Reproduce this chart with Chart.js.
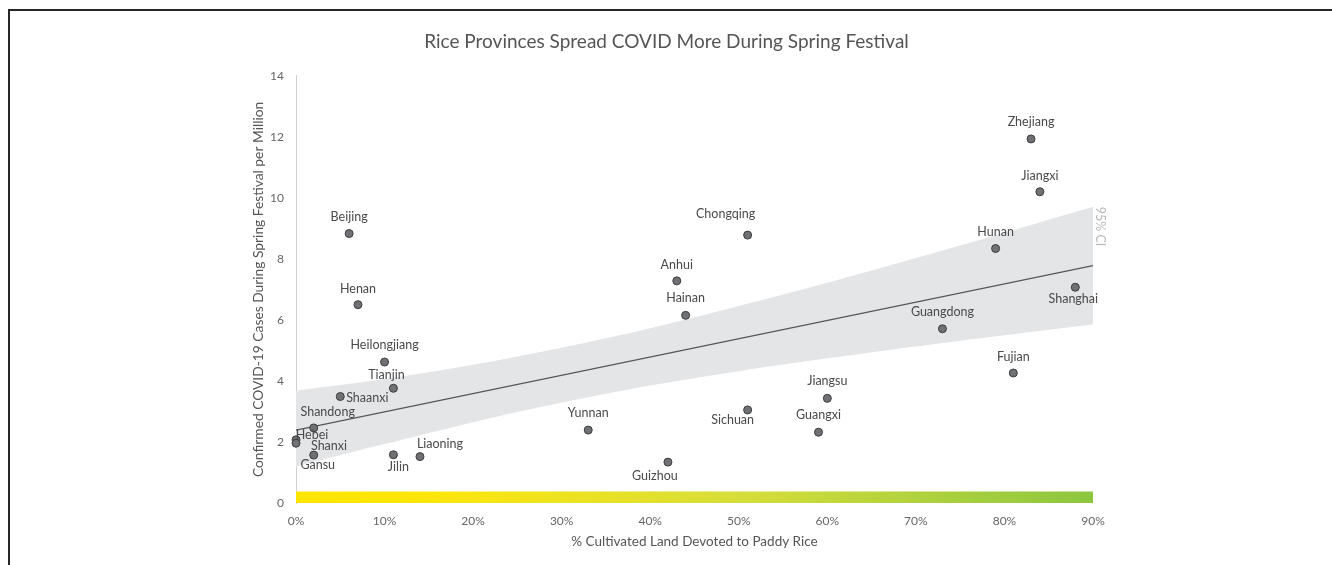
<!DOCTYPE html>
<html>
<head>
<meta charset="utf-8">
<title>Rice Provinces Spread COVID More During Spring Festival</title>
<script src="https://cdn.jsdelivr.net/npm/chart.js@4.4.1/dist/chart.umd.min.js"></script>
<style>
  html, body { margin: 0; padding: 0; background: #fff; }
  #wrap { position: relative; width: 1332px; height: 565px; overflow: hidden; }
  #frame { position: absolute; left: 8px; top: 9px; right: -10px; bottom: -10px;
           border-top: 2px solid #262626; border-left: 2px solid #262626; pointer-events: none; }
</style>
</head>
<body>
<div id="wrap">
  <canvas id="chart" width="1332" height="565"></canvas>
  <div id="frame"></div>
</div>
<script>
// 省份 / 稻田占比(%) / 春节期间每百万确诊
var provinces = ['Zhejiang', 'Jiangxi', 'Hunan', 'Shanghai', 'Guangdong', 'Fujian', 'Jiangsu', 'Guangxi',
  'Chongqing', 'Sichuan', 'Anhui', 'Hainan', 'Guizhou', 'Yunnan', 'Liaoning', 'Jilin', 'Tianjin',
  'Heilongjiang', 'Henan', 'Beijing', 'Shaanxi', 'Shandong', 'Gansu', 'Hebei', 'Shanxi'];
var riceShare = [83, 84, 79, 88, 73, 81, 60, 59, 51, 51, 43, 44, 42, 33, 14, 11, 11, 10, 7, 6, 5, 2, 2, 0, 0];
var casesPerMillion = [11.93, 10.2, 8.34, 7.07, 5.71, 4.26, 3.43, 2.32, 8.78, 3.05, 7.28, 6.15, 1.34, 2.39,
  1.52, 1.58, 3.76, 4.62, 6.5, 8.83, 3.49, 2.46, 1.57, 2.07, 1.96];

// 回归线和95%置信区间
var trendX = [0, 90];
var trendY = [2.39, 7.78];
var bandX = [0, 10, 20, 30, 40, 50, 60, 70, 80, 90];
var ciUpper = [3.68, 4.06, 4.53, 5.09, 5.73, 6.46, 7.22, 8.03, 8.86, 9.71];
var ciLower = [1.2, 1.93, 2.65, 3.29, 3.85, 4.32, 4.74, 5.13, 5.5, 5.85];

// 底部渐变色条
var colorBarX = [0, 90];
var colorBarTop = 0.38;

var xTicks = [0, 10, 20, 30, 40, 50, 60, 70, 80, 90];
var yTicks = [0, 2, 4, 6, 8, 10, 12, 14];

// 标签相对点的偏移
var labelOffset = {
  Zhejiang: [0, -17], Jiangxi: [0, -16], Hunan: [0, -17], Shanghai: [-2, 12],
  Guangdong: [0, -17], Fujian: [0, -16], Jiangsu: [0, -17], Guangxi: [0, -17],
  Chongqing: [-22, -21], Sichuan: [-15, 10], Anhui: [0, -16], Hainan: [0, -17],
  Guizhou: [-13, 14], Yunnan: [0, -17], Liaoning: [20, -13], Jilin: [5, 12],
  Tianjin: [-7, -13], Heilongjiang: [0, -17], Henan: [0, -16], Beijing: [0, -17],
  Shaanxi: [27, 1], Shandong: [14, -16], Gansu: [4, 10], Hebei: [16, -5], Shanxi: [33, 3]
};

var FONT = 'Lato, "Open Sans", sans-serif';

function toPoints(xs, ys) {
  return xs.map(function (x, i) { return { x: x, y: ys[i] }; });
}

var labelPlugin = {
  id: 'provinceLabels',
  afterDatasetsDraw: function (chart) {
    var ctx = chart.ctx;
    var meta = chart.getDatasetMeta(0);
    ctx.save();
    ctx.font = '12.5px ' + FONT;
    ctx.fillStyle = '#4a4a4a';
    ctx.textAlign = 'center';
    ctx.textBaseline = 'middle';
    meta.data.forEach(function (pt, i) {
      var off = labelOffset[provinces[i]] || [0, -17];
      ctx.fillText(provinces[i], pt.x + off[0], pt.y + off[1]);
    });
    // 置信区间标注
    var xs = chart.scales.x, ys = chart.scales.y;
    ctx.translate(xs.getPixelForValue(bandX[bandX.length - 1]) + 7, ys.getPixelForValue(ciUpper[ciUpper.length - 1]));
    ctx.rotate(Math.PI / 2);
    ctx.font = '12.5px ' + FONT;
    ctx.fillStyle = '#b8b8b8';
    ctx.textAlign = 'left';
    ctx.fillText('95% CI', 0, 0);
    ctx.restore();
  }
};

function createChart() {
  var ctx = document.getElementById('chart').getContext('2d');
  return new Chart(ctx, {
    type: 'scatter',
    data: {
      datasets: [
        {
          label: 'Provinces',
          data: toPoints(riceShare, casesPerMillion),
          pointRadius: 4,
          pointBackgroundColor: '#707175',
          pointBorderColor: '#3c3c3c',
          pointBorderWidth: 1,
          clip: false,
          order: 0
        },
        {
          type: 'line',
          label: 'Trend',
          data: toPoints(trendX, trendY),
          borderColor: '#555',
          borderWidth: 1.3,
          pointRadius: 0,
          fill: false,
          order: 1
        },
        {
          type: 'line',
          label: 'CI upper',
          data: toPoints(bandX, ciUpper),
          borderWidth: 0,
          pointRadius: 0,
          tension: 0.3,
          backgroundColor: '#e4e5e7',
          fill: '+1',
          order: 2
        },
        {
          type: 'line',
          label: 'CI lower',
          data: toPoints(bandX, ciLower),
          borderWidth: 0,
          pointRadius: 0,
          tension: 0.3,
          fill: false,
          order: 2
        },
        {
          type: 'line',
          label: 'Rice share',
          data: toPoints(colorBarX, [colorBarTop, colorBarTop]),
          borderWidth: 0,
          pointRadius: 0,
          fill: 'origin',
          backgroundColor: function (c) {
            var area = c.chart.chartArea;
            if (!area) return '#ffe500';
            var g = c.chart.ctx.createLinearGradient(area.left, 0, area.right, 0);
            g.addColorStop(0, '#ffe500');
            g.addColorStop(0.18, '#fde60c');
            g.addColorStop(0.55, '#d7de3a');
            g.addColorStop(1, '#8cc63f');
            return g;
          },
          order: 3
        }
      ]
    },
    options: {
      responsive: false,
      animation: false,
      events: [],
      layout: { padding: { left: 240, right: 239, top: 20, bottom: 0 } },
      plugins: {
        legend: { display: false },
        tooltip: { enabled: false },
        title: {
          display: true,
          text: 'Rice Provinces Spread COVID More During Spring Festival',
          color: '#555',
          font: { family: FONT, size: 19, weight: 'normal' },
          padding: { top: 10, bottom: 23 }
        }
      },
      scales: {
        x: {
          type: 'linear',
          min: xTicks[0],
          max: xTicks[xTicks.length - 1],
          afterBuildTicks: function (s) { s.ticks = xTicks.map(function (v) { return { value: v }; }); },
          afterFit: function (s) { s.height = 62; s.paddingLeft = 0; s.paddingRight = 0; },
          grid: { display: false, drawTicks: false },
          border: { display: false },
          ticks: {
            padding: 11,
            color: '#666',
            font: { family: FONT, size: 12 },
            maxRotation: 0,
            callback: function (v) { return v + '%'; }
          },
          title: {
            display: true,
            text: '% Cultivated Land Devoted to Paddy Rice',
            color: '#555',
            font: { family: FONT, size: 13.5 },
            padding: { top: 4, bottom: 15 }
          }
        },
        y: {
          type: 'linear',
          min: yTicks[0],
          max: yTicks[yTicks.length - 1],
          afterBuildTicks: function (s) { s.ticks = yTicks.map(function (v) { return { value: v }; }); },
          afterFit: function (s) { s.width = 56; s.paddingTop = 0; s.paddingBottom = 0; },
          grid: { display: false, drawTicks: false },
          border: { display: true, color: '#cfcfcf', width: 1 },
          ticks: {
            padding: 12,
            color: '#666',
            font: { family: FONT, size: 12 }
          },
          title: {
            display: true,
            text: 'Confirmed COVID-19 Cases During Spring Festival per Million',
            color: '#555',
            font: { family: FONT, size: 13.8 },
            padding: { top: 10, bottom: 0 }
          }
        }
      }
    },
    plugins: [labelPlugin]
  });
}

var chart = createChart();
</script>
</body>
</html>
